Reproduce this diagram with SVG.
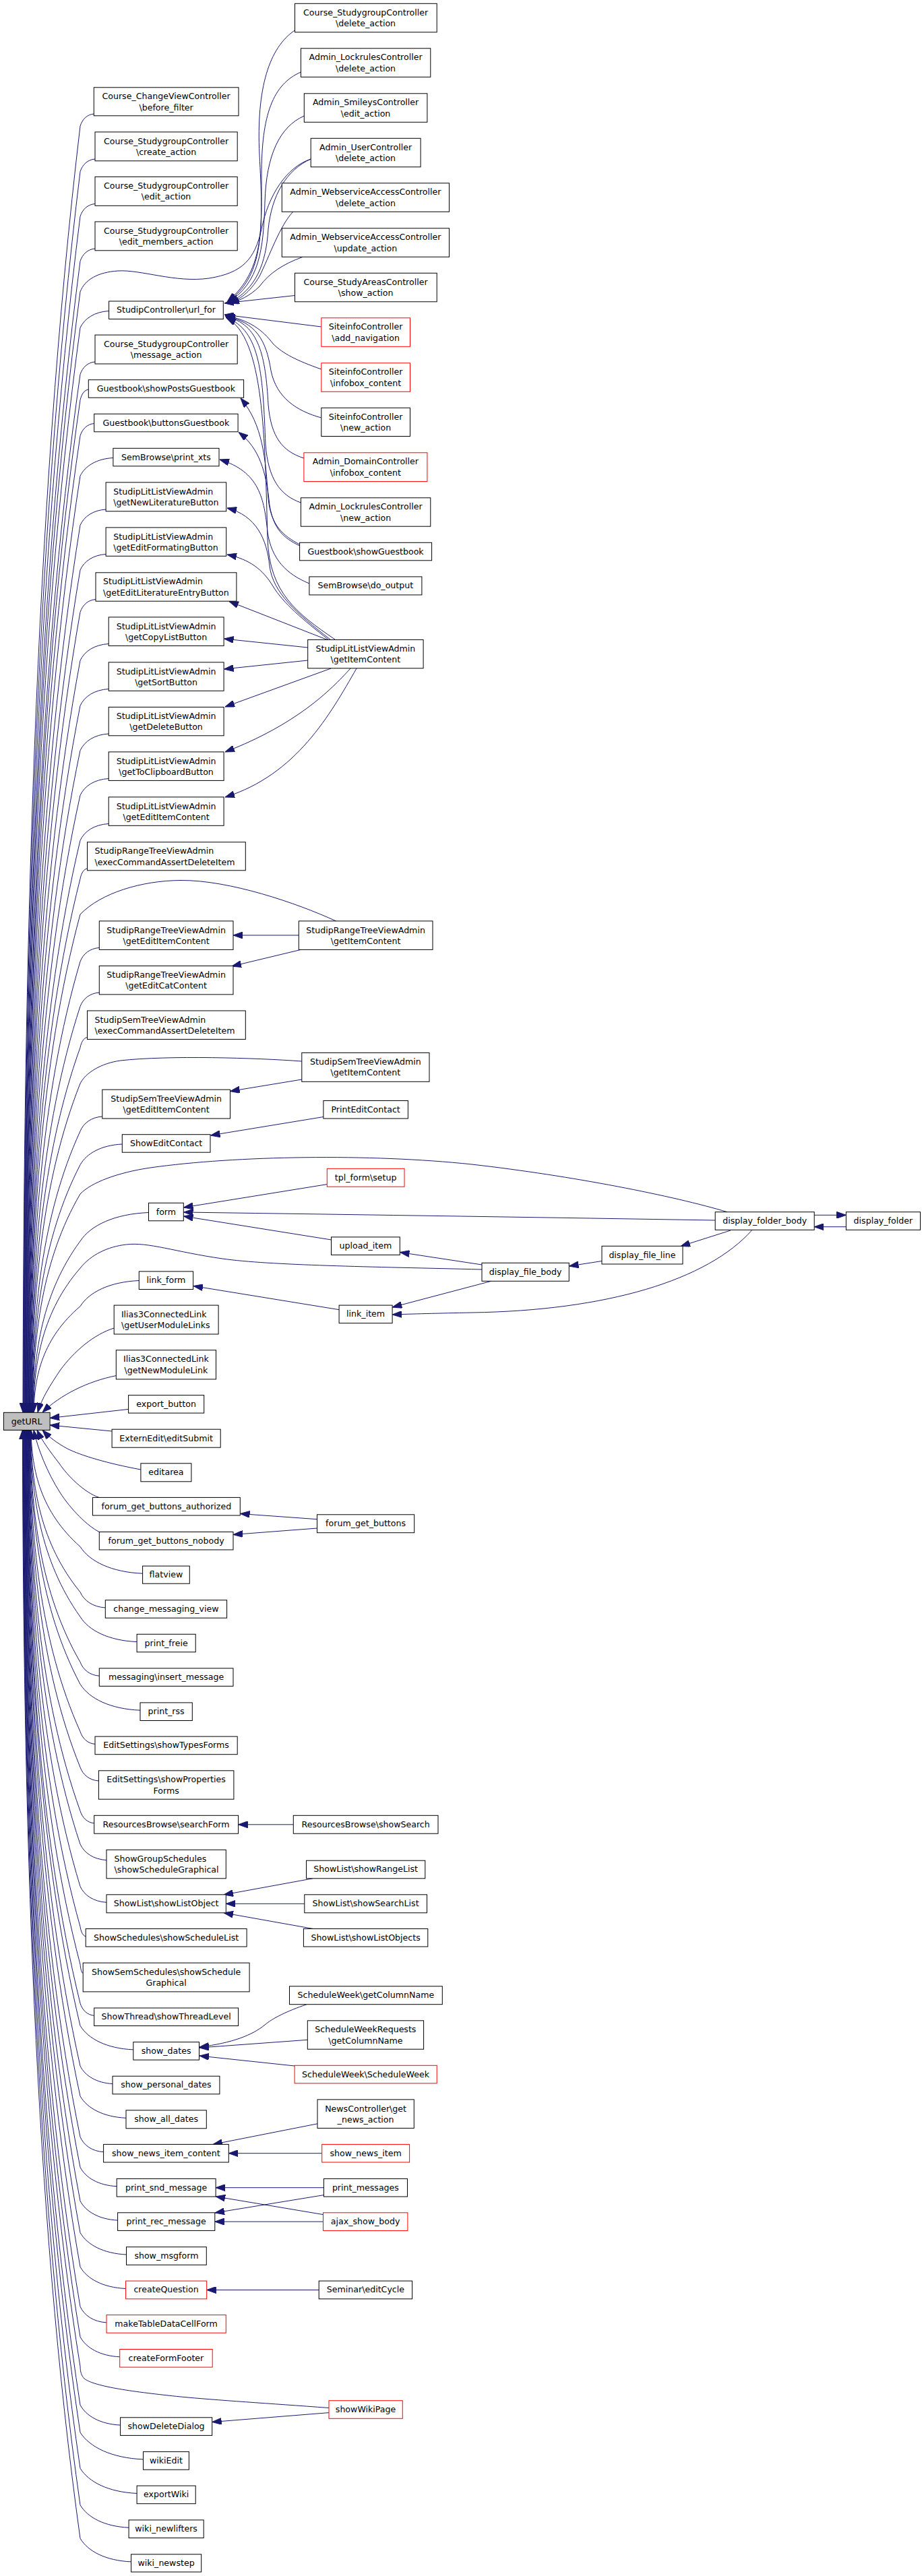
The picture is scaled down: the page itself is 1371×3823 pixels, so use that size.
<svg xmlns="http://www.w3.org/2000/svg" width="1371" height="3823" viewBox="0 0 1371 3823">
<style>
text{font-family:"DejaVu Sans","Liberation Sans",sans-serif;font-size:12.6px;fill:#000;text-anchor:middle}
text.s{text-anchor:start}
.n{fill:#fff;stroke:#000;stroke-width:1}
.r{fill:#fff;stroke:#f00;stroke-width:1}
.g{fill:#bfbfbf;stroke:#000;stroke-width:1}
#edges path{fill:none;stroke:#191970;stroke-width:1;marker-end:url(#a)}
</style>
<defs>
<marker id="a" viewBox="0 0 14 10" markerWidth="14" markerHeight="10" refX="14" refY="5" orient="auto" markerUnits="userSpaceOnUse"><path d="M0,0L14,5L0,10z" fill="#191970" stroke="#191970" stroke-width="1"/></marker>
</defs>
<rect width="1371" height="3823" fill="#fff"/>
<g id="edges">
<path d="M139.3,169 C129.2,169.9 122,177.1 119,187.1 C51,759.8 35,1427.9 34,2096"/>
<path d="M141,236 C130,236.9 122.3,244.4 119,254.6 C51.4,807 35.6,1451.5 34.6,2096"/>
<path d="M141,302.5 C130,303.4 122.3,310.9 119,321.1 C51.9,853.6 36.1,1474.8 35.1,2096"/>
<path d="M141,369 C130,369.9 122.3,377.4 119,387.6 C52.3,900.1 36.7,1498.1 35.7,2096"/>
<path d="M461.2,236 C425,248 398,290 388,340 C378,385 360,405 310,413 C260,420 210,400 175,402 C145,404 126,415 119,433 C52.8,931.9 37.2,1514 36.2,2096"/>
<path d="M161.6,461.5 C140.3,462.7 125.4,472.7 119,486.3 C53.2,969.2 37.8,1532.6 36.8,2096"/>
<path d="M141,537 C130,537.9 122.3,545.4 119,555.6 C53.6,1017.7 38.3,1556.9 37.3,2096"/>
<path d="M131.3,578 C125.2,578.8 120.9,585.1 119,593.7 C54.1,1044.4 38.9,1570.2 37.9,2096"/>
<path d="M139.7,628.5 C129.4,629.4 122.1,636.7 119,646.7 C54.5,1081.5 39.4,1588.7 38.4,2096"/>
<path d="M167.9,679.5 C143.5,680.8 126.3,691.5 119,706.2 C55,1123.1 40,1609.6 39,2096"/>
<path d="M157.1,756 C138.1,757.2 124.7,766.5 119,779.4 C55.4,1174.4 40.5,1635.2 39.5,2096"/>
<path d="M157.1,822.5 C138.1,823.7 124.7,833 119,845.9 C55.8,1220.9 41.1,1658.5 40.1,2096"/>
<path d="M142,889.5 C130.5,890.4 122.5,898 119,908.4 C56.3,1264.7 41.6,1680.3 40.6,2096"/>
<path d="M161.2,955.5 C140.1,956.7 125.3,966.6 119,980.2 C56.7,1314.9 42.2,1705.5 41.2,2096"/>
<path d="M161.2,1022.5 C140.1,1023.7 125.3,1033.6 119,1047.2 C57.2,1361.8 42.7,1728.9 41.7,2096"/>
<path d="M161.2,1089 C140.1,1090.2 125.3,1100.1 119,1113.7 C57.6,1408.4 43.3,1752.2 42.3,2096"/>
<path d="M161.2,1155.5 C140.1,1156.7 125.3,1166.6 119,1180.2 C58,1454.9 43.8,1775.5 42.8,2096"/>
<path d="M161.2,1222.5 C140.1,1223.7 125.3,1233.6 119,1247.2 C58.5,1501.8 44.4,1798.9 43.4,2096"/>
<path d="M129.5,1289 C124.3,1289.8 120.6,1295.8 119,1304.2 C58.9,1541.7 44.9,1818.9 43.9,2096"/>
<path d="M498.7,1367 C440,1340 340,1306 268,1306.5 C210,1307 150,1325 119,1357 C59.4,1578.7 45.5,1837.3 44.5,2096"/>
<path d="M147.3,1406.5 C133.2,1407.5 123.3,1415.7 119,1427 C59.8,1627.7 46,1861.8 45,2096"/>
<path d="M147.3,1473 C133.2,1474 123.3,1482.2 119,1493.5 C60.2,1674.3 46.6,1885.1 45.6,2096"/>
<path d="M129.5,1539.5 C124.3,1540.3 120.6,1546.3 119,1554.7 C60.7,1717.1 47.1,1906.5 46.1,2096"/>
<path d="M447.8,1575 C380,1570 250,1566 178.6,1574 C150,1578 127,1592 119,1608 C61.1,1754.4 47.7,1925.2 46.7,2096"/>
<path d="M151.8,1657 C135.4,1658.1 123.9,1666.8 119,1678.8 C61.6,1804 48.2,1950 47.2,2096"/>
<path d="M181.3,1698 C150.2,1699.5 128.4,1711.8 119,1728.7 C62,1838.9 48.8,1967.4 47.8,2096"/>
<path d="M1079,1798.7 C1000,1775 850,1745 700,1728 C550,1712 350,1715 223,1733 C175,1740 135,1755 119,1772 C62.4,1869.2 49.3,1982.6 48.3,2096"/>
<path d="M220.5,1799.5 C169.8,1801.6 134.2,1818.6 119,1842 C62.9,1918.2 49.9,2007.1 48.9,2096"/>
<path d="M715,1884 C550,1880 400,1878 330,1868 C260,1858 220,1843 187.5,1847 C160,1850 135,1862 119,1882 C63.3,1946.2 50.4,2021.1 49.4,2096"/>
<path d="M206.3,1900.5 C162.7,1902.4 132.1,1917.7 119,1938.7 C63.8,1985.9 51,2040.9 50,2096"/>
<path d="M169.2,1971 C140,1980 110,2005 89,2034 C75,2055 62,2075 56,2096"/>
<path d="M172.3,2041.6 C130,2050 90,2070 63,2096"/>
<path d="M190.6,2091.4 L74.1,2104.5"/>
<path d="M166.1,2124 L74.1,2115"/>
<path d="M208.9,2181 C160,2172 120,2160 100,2150 C85,2142 72,2132 63,2122.4"/>
<path d="M147,2222.4 C125,2215 100,2190 88,2172 C75,2155 62,2138 55,2122.4"/>
<path d="M147.3,2273.5 C130,2265 105,2240 89,2215 C70,2185 56,2150 50,2122.4"/>
<path d="M211.6,2335.2 C165.3,2333.2 132.9,2317.3 119,2295.4 C60.6,2243.5 47,2183 46,2122.4"/>
<path d="M156.3,2386 C137.7,2384.8 124.6,2375.6 119,2362.8 C60.2,2290.7 46.6,2206.5 45.6,2122.4"/>
<path d="M203.1,2436.6 C161.1,2434.7 131.6,2419.8 119,2399.4 C59.9,2316.3 46.1,2219.4 45.1,2122.4"/>
<path d="M147.3,2487.2 C133.2,2486.2 123.3,2478 119,2466.7 C59.5,2363.4 45.7,2242.9 44.7,2122.4"/>
<path d="M208,2538.2 C163.5,2536.3 132.4,2520.8 119,2499.5 C59.2,2386.4 45.2,2254.4 44.2,2122.4"/>
<path d="M141,2588.4 C130,2587.5 122.3,2580 119,2569.8 C58.8,2435.6 44.8,2279 43.8,2122.4"/>
<path d="M146.4,2643 C132.7,2642 123.1,2633.9 119,2622.8 C58.4,2472.7 44.3,2297.5 43.3,2122.4"/>
<path d="M139.7,2705.8 C129.4,2704.9 122.1,2697.6 119,2687.6 C58.1,2518 43.9,2320.2 42.9,2122.4"/>
<path d="M158,2760.6 C138.5,2759.4 124.9,2749.9 119,2736.9 C57.7,2552.5 43.4,2337.5 42.4,2122.4"/>
<path d="M158,2823.3 C138.5,2822.1 124.9,2812.6 119,2799.6 C57.4,2596.4 43,2359.4 42,2122.4"/>
<path d="M127.2,2873.7 C123.1,2873 120.2,2867.2 119,2859.2 C57,2638.2 42.5,2380.3 41.5,2122.4"/>
<path d="M123.2,2928.5 C121.1,2927.8 119.6,2922.5 119,2915.2 C56.6,2677.4 42.1,2399.9 41.1,2122.4"/>
<path d="M139.7,2991.3 C129.4,2990.4 122.1,2983.1 119,2973.1 C56.3,2717.9 41.6,2420.1 40.6,2122.4"/>
<path d="M197.8,3041.9 C158.4,3040.1 130.8,3025.9 119,3006.3 C55.9,2741.1 41.2,2431.8 40.2,2122.4"/>
<path d="M167,3092.5 C143,3091.2 126.2,3080.6 119,3066.1 C55.6,2783 40.7,2452.7 39.7,2122.4"/>
<path d="M187,3143.3 C153,3141.7 129.2,3128.7 119,3110.9 C55.2,2814.3 40.3,2468.4 39.3,2122.4"/>
<path d="M153.6,3193.7 C136.3,3192.6 124.2,3183.6 119,3171.3 C54.8,2856.6 39.8,2489.5 38.8,2122.4"/>
<path d="M173.2,3244.7 C146.1,3243.3 127.1,3232 119,3216.4 C54.5,2888.2 39.4,2505.3 38.4,2122.4"/>
<path d="M174.6,3295.1 C146.8,3293.7 127.3,3282.2 119,3266.4 C54.1,2923.2 38.9,2522.8 37.9,2122.4"/>
<path d="M187.5,3346 C153.3,3344.4 129.3,3331.4 119,3313.5 C53.8,2956.2 38.5,2539.3 37.5,2122.4"/>
<path d="M186.6,3396.5 C152.8,3394.9 129.1,3382 119,3364.2 C53.4,2991.7 38,2557 37,2122.4"/>
<path d="M158,3446.9 C138.5,3445.7 124.9,3436.2 119,3423.2 C53,3033 37.6,2577.7 36.6,2122.4"/>
<path d="M177.7,3497.8 C148.4,3496.3 127.8,3484.5 119,3468.2 C52.7,3064.5 37.1,2593.4 36.1,2122.4"/>
<path d="M488,3573.5 C400,3567 320,3562 268,3557 C200,3550 140,3542 125,3530 C121,3526 119,3520 119,3512 C52.3,3095.1 36.7,2608.8 35.7,2122.4"/>
<path d="M178.6,3599.1 C148.8,3597.6 127.9,3585.7 119,3569.2 C52,3135.2 36.2,2628.8 35.2,2122.4"/>
<path d="M212.5,3649.9 C165.8,3647.9 133,3631.9 119,3609.9 C51.6,3163.6 35.8,2643 34.8,2122.4"/>
<path d="M203.1,3700.4 C161.1,3698.5 131.6,3683.6 119,3663.2 C51.2,3201 35.3,2661.7 34.3,2122.4"/>
<path d="M191.1,3751.2 C155.1,3749.5 129.8,3736.1 119,3717.6 C50.9,3239 34.9,2680.7 33.9,2122.4"/>
<path d="M194.6,3801.9 C156.8,3800.2 130.3,3786.3 119,3767.2 C50.5,3273.8 34.4,2698.1 33.4,2122.4"/>
<path d="M437.5,45 C400,70 380,130 385,230 C390,330 395,400 337,448"/>
<path d="M446.4,107 C405,125 388,170 388,260 C388,350 390,410 338,448"/>
<path d="M451.3,172 C415,188 395,230 393,300 C391,370 385,420 338,449"/>
<path d="M461.2,236 C425,252 403,290 398,340 C395,390 380,430 340,449"/>
<path d="M435,314 C415,335 400,380 385,410 C370,435 355,445 340,450"/>
<path d="M448.7,381.5 C420,392 400,405 385,425 C370,440 355,446 341,450"/>
<path d="M437.5,438.5 L333,450"/>
<path d="M476.8,485 L333,467"/>
<path d="M476.8,548 C440,535 420,525 405,510 C390,490 370,475 334,468"/>
<path d="M476.8,620 C440,610 410,590 402,550 C395,505 380,478 334,469"/>
<path d="M450.9,680 C420,670 402,650 398,600 C394,530 385,480 335,470"/>
<path d="M446.4,746 C415,735 398,710 394,660 C390,560 388,490 335,471"/>
<path d="M497,949 C440,910 400,880 397,800 C393,650 392,500 336,472"/>
<path d="M444.6,808 C420,795 402,780 398,740 C394,680 390,630 357,591"/>
<path d="M444.6,810 C420,798 406,785 400,750 C395,700 385,665 354,641.5"/>
<path d="M458.9,866 C425,852 403,830 397,790 C392,740 385,700 326,682"/>
<path d="M490,949 C440,910 405,880 400,840 C396,800 380,765 337,754"/>
<path d="M487,949 C450,920 420,895 405,870 C390,845 370,830 337,823"/>
<path d="M487,950 L340,892.5"/>
<path d="M456.7,961 L332.5,948"/>
<path d="M456.7,980 L332.5,993"/>
<path d="M491,992 L334,1049"/>
<path d="M520,992 C490,1025 440,1075 334,1116"/>
<path d="M529,992 C490,1060 440,1150 334,1183"/>
<path d="M443.3,1388 L346,1388"/>
<path d="M446.4,1409.4 L344,1434"/>
<path d="M447.8,1602 L341.5,1619.5"/>
<path d="M479.9,1657.5 L312.5,1685"/>
<path d="M485.3,1757.6 L272.5,1792"/>
<path d="M1061.2,1811 Q700,1805 272.5,1799"/>
<path d="M491.5,1840 L272.5,1805"/>
<path d="M715,1877 L593.5,1858.5"/>
<path d="M1084,1826 L1010,1849.5"/>
<path d="M893,1871.5 L844.5,1879"/>
<path d="M1208.2,1803.3 L1255.4,1803.3"/>
<path d="M1255.4,1820.7 L1208.2,1820.7"/>
<path d="M503.1,1943.7 L287,1908.5"/>
<path d="M728.8,1901.3 L582.3,1940"/>
<path d="M1116,1825.3 C1050,1900 900,1945 700,1948 C650,1949 610,1950 582.3,1951"/>
<path d="M470.5,2254.7 L356.5,2246.5"/>
<path d="M470.5,2268 L346,2277.5"/>
<path d="M435.3,2707.8 L353.6,2707.8"/>
<path d="M464,2787.8 L332,2812"/>
<path d="M451.8,2825.3 L335.3,2825.3"/>
<path d="M464,2862.4 L332,2838.8"/>
<path d="M455,2974.7 C425,2985 405,2995 393,3005 C375,3020 345,3032 296,3038"/>
<path d="M456.3,3027.3 L296,3039"/>
<path d="M437,3066 L296,3051"/>
<path d="M471,3151.8 L316,3182.4"/>
<path d="M477.7,3195.7 L339.3,3195.7"/>
<path d="M480.4,3246.7 L320.1,3246.7"/>
<path d="M480.4,3257.6 L319,3284"/>
<path d="M479.5,3286.6 L320.1,3259.8"/>
<path d="M479.5,3297.1 L318.8,3297.1"/>
<path d="M473.2,3398.5 L306.7,3398.5"/>
<path d="M488,3580.6 L314.7,3594.5"/>
</g>
<g id="n_r1"><rect class="n" x="437.5" y="5.3" width="210.7" height="42.5"/><text x="542.6" y="22.9">Course_StudygroupController</text><text x="542.6" y="39.2">\delete_action</text></g>
<g id="n_r2"><rect class="n" x="446.4" y="71.8" width="192.4" height="42.5"/><text x="542.6" y="89.4">Admin_LockrulesController</text><text x="542.6" y="105.7">\delete_action</text></g>
<g id="n_r3"><rect class="n" x="451.3" y="138.8" width="182.6" height="42.5"/><text x="542.6" y="156.4">Admin_SmileysController</text><text x="542.6" y="172.7">\edit_action</text></g>
<g id="n_r4"><rect class="n" x="461.2" y="205.3" width="162.9" height="42.5"/><text x="542.6" y="222.9">Admin_UserController</text><text x="542.6" y="239.2">\delete_action</text></g>
<g id="n_r5"><rect class="n" x="418.3" y="271.8" width="248.2" height="42.5"/><text x="542.4" y="289.4">Admin_WebserviceAccessController</text><text x="542.4" y="305.7">\delete_action</text></g>
<g id="n_r6"><rect class="n" x="418.3" y="338.8" width="248.2" height="42.5"/><text x="542.4" y="356.4">Admin_WebserviceAccessController</text><text x="542.4" y="372.7">\update_action</text></g>
<g id="n_r7"><rect class="n" x="437.5" y="405.3" width="210.7" height="42.5"/><text x="542.6" y="422.9">Course_StudyAreasController</text><text x="542.6" y="439.2">\show_action</text></g>
<g id="n_r8"><rect class="r" x="476.8" y="471.8" width="131.7" height="42.5"/><text x="542.6" y="489.4">SiteinfoController</text><text x="542.6" y="505.7">\add_navigation</text></g>
<g id="n_r9"><rect class="r" x="476.8" y="538.8" width="131.7" height="42.5"/><text x="542.6" y="556.4">SiteinfoController</text><text x="542.6" y="572.7">\infobox_content</text></g>
<g id="n_r10"><rect class="n" x="476.8" y="605.3" width="131.7" height="42.2"/><text x="542.6" y="622.9">SiteinfoController</text><text x="542.6" y="639.2">\new_action</text></g>
<g id="n_r11"><rect class="r" x="450.9" y="671.8" width="183" height="42.8"/><text x="542.4" y="689.4">Admin_DomainController</text><text x="542.4" y="705.7">\infobox_content</text></g>
<g id="n_r12"><rect class="n" x="446.4" y="738.8" width="192.4" height="42.4"/><text x="542.6" y="756.4">Admin_LockrulesController</text><text x="542.6" y="772.7">\new_action</text></g>
<g id="n_r13"><rect class="n" x="444.6" y="805.3" width="196" height="26.5"/><text x="542.6" y="822.5">Guestbook\showGuestbook</text></g>
<g id="n_r14"><rect class="n" x="458.9" y="855.9" width="167" height="27"/><text x="542.4" y="873.3">SemBrowse\do_output</text></g>
<g id="n_r15"><rect class="n" x="456.7" y="949.4" width="171.4" height="42.4"/><text x="542.4" y="967">StudipLitListViewAdmin</text><text x="542.4" y="983.3">\getItemContent</text></g>
<g id="n_r16"><rect class="n" x="443.3" y="1366.9" width="198.7" height="42.5"/><text x="542.6" y="1384.5">StudipRangeTreeViewAdmin</text><text x="542.6" y="1400.8">\getItemContent</text></g>
<g id="n_r17"><rect class="n" x="447.8" y="1562.4" width="189.2" height="42.9"/><text x="542.4" y="1580">StudipSemTreeViewAdmin</text><text x="542.4" y="1596.3">\getItemContent</text></g>
<g id="n_r18"><rect class="n" x="479.9" y="1633.5" width="125.5" height="26.5"/><text x="542.6" y="1650.7">PrintEditContact</text></g>
<g id="n_r19"><rect class="r" x="485.3" y="1734.3" width="114.7" height="26.9"/><text x="542.6" y="1751.6">tpl_form\setup</text></g>
<g id="n_r20"><rect class="n" x="491.5" y="1835.9" width="101.8" height="26.5"/><text x="542.4" y="1853.1">upload_item</text></g>
<g id="n_r21"><rect class="n" x="503.1" y="1937.1" width="79" height="26.6"/><text x="542.6" y="1954.3">link_item</text></g>
<g id="n_dfb"><rect class="n" x="715" y="1874.3" width="129.3" height="27"/><text x="779.6" y="1891.6">display_file_body</text></g>
<g id="n_dfl"><rect class="n" x="893" y="1849.3" width="120" height="26.7"/><text x="953" y="1866.5">display_file_line</text></g>
<g id="n_dfob"><rect class="n" x="1061.2" y="1798.7" width="147" height="26.6"/><text x="1134.7" y="1815.9">display_folder_body</text></g>
<g id="n_dfo"><rect class="n" x="1255.4" y="1798.7" width="110.1" height="26.6"/><text x="1310.4" y="1815.9">display_folder</text></g>
<g id="n_r22"><rect class="n" x="470.5" y="2247.8" width="144.2" height="26.9"/><text x="542.6" y="2265.1">forum_get_buttons</text></g>
<g id="n_r23"><rect class="n" x="435.3" y="2694.3" width="214.7" height="26.9"/><text x="542.6" y="2711.6">ResourcesBrowse\showSearch</text></g>
<g id="n_r24"><rect class="n" x="454.5" y="2761.2" width="176.3" height="26.6"/><text x="542.6" y="2778.4">ShowList\showRangeList</text></g>
<g id="n_r25"><rect class="n" x="451.8" y="2811.8" width="181.7" height="27"/><text x="542.6" y="2829.1">ShowList\showSearchList</text></g>
<g id="n_r26"><rect class="n" x="450.4" y="2862.4" width="184.4" height="26.6"/><text x="542.6" y="2879.6">ShowList\showListObjects</text></g>
<g id="n_r27"><rect class="n" x="429.5" y="2947.8" width="226.8" height="26.9"/><text x="542.9" y="2965.1">ScheduleWeek\getColumnName</text></g>
<g id="n_r28"><rect class="n" x="456.3" y="2998.8" width="172.3" height="42.4"/><text x="542.4" y="3016.4">ScheduleWeekRequests</text><text x="542.4" y="3032.7">\getColumnName</text></g>
<g id="n_r29"><rect class="r" x="437.1" y="3065.3" width="211.1" height="26.5"/><text x="542.6" y="3082.5">ScheduleWeek\ScheduleWeek</text></g>
<g id="n_r30"><rect class="n" x="471" y="3115.9" width="143.3" height="42.5"/><text x="542.6" y="3133.5">NewsController\get</text><text x="542.6" y="3149.8">_news_action</text></g>
<g id="n_r31"><rect class="r" x="477.7" y="3182.4" width="129.9" height="26.6"/><text x="542.6" y="3199.6">show_news_item</text></g>
<g id="n_r32"><rect class="n" x="480.4" y="3233.4" width="124.1" height="26.6"/><text x="542.4" y="3250.6">print_messages</text></g>
<g id="n_r33"><rect class="r" x="479.5" y="3283.8" width="125.4" height="26.6"/><text x="542.2" y="3301">ajax_show_body</text></g>
<g id="n_r34"><rect class="n" x="473.2" y="3385.1" width="138.4" height="26.7"/><text x="542.4" y="3402.3">Seminar\editCycle</text></g>
<g id="n_r35"><rect class="r" x="488" y="3562.7" width="109.3" height="26.6"/><text x="542.6" y="3579.9">showWikiPage</text></g>
<g id="n_l1"><rect class="n" x="139.3" y="129.8" width="214.7" height="42"/><text x="246.6" y="147.4">Course_ChangeViewController</text><text x="246.6" y="163.7">\before_filter</text></g>
<g id="n_l2"><rect class="n" x="141" y="195.9" width="211.2" height="42.9"/><text x="246.6" y="213.5">Course_StudygroupController</text><text x="246.6" y="229.8">\create_action</text></g>
<g id="n_l3"><rect class="n" x="141" y="262.4" width="211.2" height="42.9"/><text x="246.6" y="280">Course_StudygroupController</text><text x="246.6" y="296.3">\edit_action</text></g>
<g id="n_l4"><rect class="n" x="141" y="329" width="211.2" height="42.8"/><text x="246.6" y="346.6">Course_StudygroupController</text><text x="246.6" y="362.9">\edit_members_action</text></g>
<g id="n_l5"><rect class="n" x="161.6" y="447" width="169.7" height="26.5"/><text x="246.4" y="464.2">StudipController\url_for</text></g>
<g id="n_l6"><rect class="n" x="141" y="497.1" width="211.2" height="42.9"/><text x="246.6" y="514.7">Course_StudygroupController</text><text x="246.6" y="531">\message_action</text></g>
<g id="n_l7"><rect class="n" x="131.3" y="563.7" width="230.3" height="26.5"/><text x="246.4" y="580.9">Guestbook\showPostsGuestbook</text></g>
<g id="n_l8"><rect class="n" x="139.7" y="614.3" width="213.4" height="26.5"/><text x="246.4" y="631.5">Guestbook\buttonsGuestbook</text></g>
<g id="n_l9"><rect class="n" x="167.9" y="665.3" width="157.1" height="26.5"/><text x="246.4" y="682.5">SemBrowse\print_xts</text></g>
<g id="n_l10"><rect class="n" x="157.1" y="715.9" width="178.6" height="42.9"/><text class="s" x="168.3" y="733.5">StudipLitListViewAdmin</text><text class="s" x="168.3" y="749.8">\getNewLiteratureButton</text></g>
<g id="n_l11"><rect class="n" x="157.1" y="782.9" width="178.6" height="42.4"/><text class="s" x="168.3" y="800.5">StudipLitListViewAdmin</text><text class="s" x="168.3" y="816.8">\getEditFormatingButton</text></g>
<g id="n_l12"><rect class="n" x="142" y="849.8" width="208.9" height="42.4"/><text class="s" x="153.1" y="867.4">StudipLitListViewAdmin</text><text class="s" x="153.1" y="883.7">\getEditLiteratureEntryButton</text></g>
<g id="n_l13"><rect class="n" x="161.2" y="915.9" width="170.9" height="42.5"/><text x="246.6" y="933.5">StudipLitListViewAdmin</text><text x="246.6" y="949.8">\getCopyListButton</text></g>
<g id="n_l14"><rect class="n" x="161.2" y="982.9" width="170.9" height="42.4"/><text x="246.6" y="1000.5">StudipLitListViewAdmin</text><text x="246.6" y="1016.8">\getSortButton</text></g>
<g id="n_l15"><rect class="n" x="161.2" y="1049.4" width="170.9" height="42.4"/><text x="246.6" y="1067">StudipLitListViewAdmin</text><text x="246.6" y="1083.3">\getDeleteButton</text></g>
<g id="n_l16"><rect class="n" x="161.2" y="1115.9" width="170.9" height="42.5"/><text x="246.6" y="1133.5">StudipLitListViewAdmin</text><text x="246.6" y="1149.8">\getToClipboardButton</text></g>
<g id="n_l17"><rect class="n" x="161.2" y="1182.9" width="170.9" height="42.4"/><text x="246.6" y="1200.5">StudipLitListViewAdmin</text><text x="246.6" y="1216.8">\getEditItemContent</text></g>
<g id="n_l18"><rect class="n" x="129.5" y="1249.8" width="234.8" height="42"/><text class="s" x="140.6" y="1267.4">StudipRangeTreeViewAdmin</text><text class="s" x="140.6" y="1283.7">\execCommandAssertDeleteItem</text></g>
<g id="n_l19"><rect class="n" x="147.3" y="1366.9" width="198.7" height="42.5"/><text x="246.6" y="1384.5">StudipRangeTreeViewAdmin</text><text x="246.6" y="1400.8">\getEditItemContent</text></g>
<g id="n_l20"><rect class="n" x="147.3" y="1433.5" width="198.7" height="42.4"/><text x="246.6" y="1451.1">StudipRangeTreeViewAdmin</text><text x="246.6" y="1467.4">\getEditCatContent</text></g>
<g id="n_l21"><rect class="n" x="129.5" y="1500" width="234.8" height="42.4"/><text class="s" x="140.6" y="1517.6">StudipSemTreeViewAdmin</text><text class="s" x="140.6" y="1533.9">\execCommandAssertDeleteItem</text></g>
<g id="n_l22"><rect class="n" x="151.8" y="1617.1" width="189.7" height="42.9"/><text x="246.6" y="1634.7">StudipSemTreeViewAdmin</text><text x="246.6" y="1651">\getEditItemContent</text></g>
<g id="n_l23"><rect class="n" x="181.3" y="1683.7" width="130.7" height="26.5"/><text x="246.6" y="1700.9">ShowEditContact</text></g>
<g id="n_l24"><rect class="n" x="220.5" y="1785.3" width="51.8" height="26.5"/><text x="246.4" y="1802.5">form</text></g>
<g id="n_l25"><rect class="n" x="206.3" y="1886.9" width="80.3" height="26.6"/><text x="246.4" y="1904.1">link_form</text></g>
<g id="n_l26"><rect class="n" x="169.2" y="1937.1" width="154.9" height="42.9"/><text class="s" x="179.9" y="1954.7">Ilias3ConnectedLink</text><text class="s" x="179.9" y="1971">\getUserModuleLinks</text></g>
<g id="n_l27"><rect class="n" x="172.3" y="2003.7" width="148.2" height="43.2"/><text x="246.4" y="2021.3">Ilias3ConnectedLink</text><text x="246.4" y="2037.6">\getNewModuleLink</text></g>
<g id="n_l28"><rect class="n" x="190.6" y="2070.6" width="112.1" height="26.5"/><text x="246.6" y="2087.8">export_button</text></g>
<g id="n_getURL"><rect class="g" x="5.4" y="2096.3" width="68.7" height="26.1"/><text x="39.7" y="2113.5">getURL</text></g>
<g id="n_l29"><rect class="n" x="166.1" y="2121.2" width="161.1" height="27"/><text x="246.6" y="2138.6">ExternEdit\editSubmit</text></g>
<g id="n_l30"><rect class="n" x="208.9" y="2171.8" width="75" height="27"/><text x="246.4" y="2189.2">editarea</text></g>
<g id="n_l31"><rect class="n" x="137.5" y="2222.4" width="218.8" height="26.6"/><text x="246.9" y="2239.6">forum_get_buttons_authorized</text></g>
<g id="n_l32"><rect class="n" x="147.3" y="2273.5" width="198.7" height="26.5"/><text x="246.6" y="2290.7">forum_get_buttons_nobody</text></g>
<g id="n_l33"><rect class="n" x="211.6" y="2324.1" width="69.7" height="26.1"/><text x="246.4" y="2341.3">flatview</text></g>
<g id="n_l34"><rect class="n" x="156.3" y="2374.7" width="180.3" height="26.5"/><text x="246.4" y="2391.9">change_messaging_view</text></g>
<g id="n_l35"><rect class="n" x="203.1" y="2425.3" width="87.1" height="26.5"/><text x="246.6" y="2442.5">print_freie</text></g>
<g id="n_l36"><rect class="n" x="147.3" y="2475.9" width="198.7" height="26.5"/><text x="246.6" y="2493.1">messaging\insert_message</text></g>
<g id="n_l37"><rect class="n" x="208" y="2526.9" width="77.3" height="26.6"/><text x="246.6" y="2544.1">print_rss</text></g>
<g id="n_l38"><rect class="n" x="141" y="2577.1" width="211.2" height="26.6"/><text x="246.6" y="2594.3">EditSettings\showTypesForms</text></g>
<g id="n_l39"><rect class="n" x="146.4" y="2627.8" width="200.5" height="42.4"/><text x="246.6" y="2645.4">EditSettings\showProperties</text><text x="246.6" y="2661.7">Forms</text></g>
<g id="n_l40"><rect class="n" x="139.7" y="2694.3" width="213.9" height="26.9"/><text x="246.6" y="2711.6">ResourcesBrowse\searchForm</text></g>
<g id="n_l41"><rect class="n" x="158" y="2745.3" width="177.3" height="42.5"/><text class="s" x="169.6" y="2762.9">ShowGroupSchedules</text><text class="s" x="169.6" y="2779.2">\showScheduleGraphical</text></g>
<g id="n_l42"><rect class="n" x="158" y="2811.8" width="177.3" height="27"/><text x="246.6" y="2829.1">ShowList\showListObject</text></g>
<g id="n_l43"><rect class="n" x="127.2" y="2862.4" width="238.9" height="26.6"/><text x="246.6" y="2879.6">ShowSchedules\showScheduleList</text></g>
<g id="n_l44"><rect class="n" x="123.2" y="2913.1" width="246.9" height="42.8"/><text x="246.6" y="2930.7">ShowSemSchedules\showSchedule</text><text x="246.6" y="2947">Graphical</text></g>
<g id="n_l45"><rect class="n" x="139.7" y="2980" width="213.9" height="26.5"/><text x="246.6" y="2997.2">ShowThread\showThreadLevel</text></g>
<g id="n_l46"><rect class="n" x="197.8" y="3030.6" width="97.7" height="26.5"/><text x="246.6" y="3047.8">show_dates</text></g>
<g id="n_l47"><rect class="n" x="167" y="3081.2" width="158.9" height="26.6"/><text x="246.4" y="3098.4">show_personal_dates</text></g>
<g id="n_l48"><rect class="n" x="187" y="3131.8" width="119.3" height="27"/><text x="246.6" y="3149.2">show_all_dates</text></g>
<g id="n_l49"><rect class="n" x="153.6" y="3182.4" width="185.7" height="26.6"/><text x="246.4" y="3199.6">show_news_item_content</text></g>
<g id="n_l50"><rect class="n" x="173.2" y="3233.4" width="146.9" height="26.6"/><text x="246.6" y="3250.6">print_snd_message</text></g>
<g id="n_l51"><rect class="n" x="174.6" y="3283.8" width="144.2" height="26.6"/><text x="246.6" y="3301">print_rec_message</text></g>
<g id="n_l52"><rect class="n" x="187.5" y="3334.7" width="118.8" height="26.6"/><text x="246.9" y="3351.9">show_msgform</text></g>
<g id="n_l53"><rect class="r" x="186.6" y="3385.1" width="120.1" height="26.7"/><text x="246.6" y="3402.3">createQuestion</text></g>
<g id="n_l54"><rect class="r" x="158" y="3435.6" width="177.3" height="26.6"/><text x="246.6" y="3452.8">makeTableDataCellForm</text></g>
<g id="n_l55"><rect class="r" x="177.7" y="3486.5" width="137.5" height="26.6"/><text x="246.4" y="3503.7">createFormFooter</text></g>
<g id="n_l56"><rect class="n" x="178.6" y="3587.8" width="136.1" height="26.6"/><text x="246.6" y="3605">showDeleteDialog</text></g>
<g id="n_l57"><rect class="n" x="212.5" y="3638.6" width="67.9" height="26.6"/><text x="246.4" y="3655.8">wikiEdit</text></g>
<g id="n_l58"><rect class="n" x="203.1" y="3689.1" width="87.1" height="26.6"/><text x="246.6" y="3706.3">exportWiki</text></g>
<g id="n_l59"><rect class="n" x="191.1" y="3739.9" width="111.1" height="26.6"/><text x="246.6" y="3757.1">wiki_newlifters</text></g>
<g id="n_l60"><rect class="n" x="194.6" y="3790.8" width="104.1" height="26.2"/><text x="246.6" y="3808">wiki_newstep</text></g>
</svg>
